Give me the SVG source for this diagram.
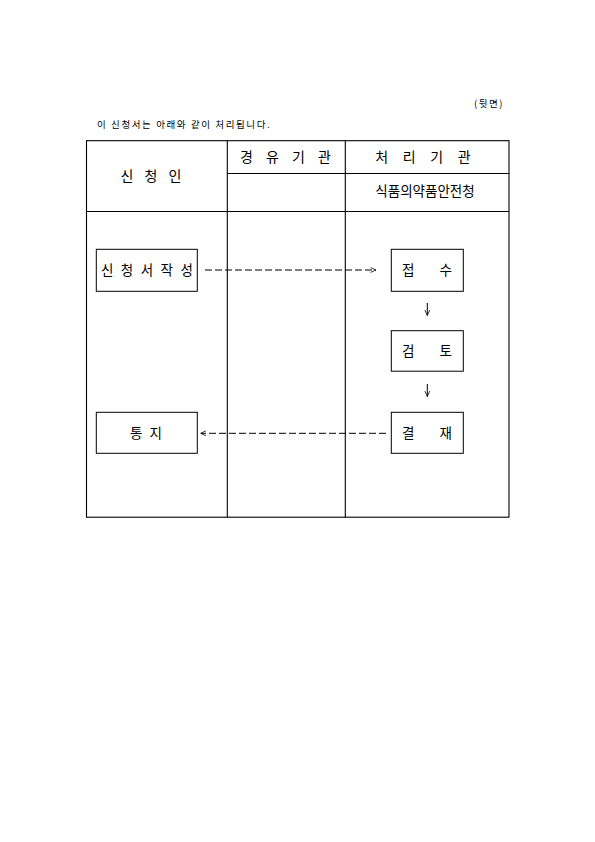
<svg xmlns="http://www.w3.org/2000/svg" width="595" height="842" viewBox="0 0 595 842">
<defs>
<style>
text{font-family:"Noto Sans CJK KR","Noto Sans CJK SC",sans-serif;fill:#000}
.grid{stroke:#000;stroke-width:1.1;fill:none}
.box{stroke:#000;stroke-width:1;fill:#fff}
.lbl{font-size:13.5px;text-anchor:middle}
.hdr{font-size:14px;text-anchor:middle}
.small{font-size:9.5px}
.dash{stroke:#000;stroke-width:1;stroke-dasharray:7 3;fill:none}
.solid{stroke:#000;stroke-width:1;fill:none}
</style>
<marker id="ah" viewBox="0 0 10 10" refX="10" refY="5" markerWidth="6" markerHeight="6" orient="auto" markerUnits="userSpaceOnUse">
<path d="M1,1 L10,5 L1,9" fill="none" stroke="#000" stroke-width="1.3"/>
</marker>
</defs>
<rect width="595" height="842" fill="#fff"/>
<text class="small" x="474" y="107" letter-spacing="1.5">(뒷면)</text>
<text class="small" x="97" y="128" letter-spacing="1.6">이 신청서는 아래와 같이 처리됩니다.</text>
<g id="table">
<rect class="grid" x="86.5" y="140.7" width="422.5" height="376.5"/>
<line class="grid" x1="227.3" y1="140.7" x2="227.3" y2="517.2"/>
<line class="grid" x1="345.3" y1="140.7" x2="345.3" y2="517.2"/>
<line class="grid" x1="227.3" y1="173.5" x2="509" y2="173.5"/>
<line class="grid" x1="86.5" y1="211.5" x2="509" y2="211.5"/>
<text class="hdr" x="151" y="181" word-spacing="8">신 청 인</text>
<text class="hdr" x="285.5" y="162" word-spacing="10">경 유 기 관</text>
<text class="hdr" x="423" y="162" word-spacing="11.5">처 리 기 관</text>
<text class="lbl" x="425" y="196">식품의약품안전청</text>
</g>
<g id="n-apply">
<rect class="box" x="96.3" y="249.3" width="101" height="42"/>
<text class="lbl" x="148" y="275" letter-spacing="2.2">신 청 서 작 성</text>
</g>
<g id="n-receive">
<rect class="box" x="391.3" y="249.3" width="72" height="42"/>
<text class="lbl" x="427" y="275" word-spacing="22">접 수</text>
</g>
<g id="n-review">
<rect class="box" x="391.3" y="330.7" width="72" height="40.5"/>
<text class="lbl" x="427" y="356" word-spacing="22">검 토</text>
</g>
<g id="n-approve">
<rect class="box" x="391.3" y="412.3" width="72" height="41"/>
<text class="lbl" x="427" y="438" word-spacing="22">결 재</text>
</g>
<g id="n-notify">
<rect class="box" x="96.3" y="412.3" width="101" height="41"/>
<text class="lbl" x="146" y="438" word-spacing="4">통 지</text>
</g>
<g id="connectors">
<line class="dash" x1="205" y1="270" x2="376" y2="270" marker-end="url(#ah)"/>
<line class="solid" x1="427.3" y1="303" x2="427.3" y2="315.5" marker-end="url(#ah)"/>
<line class="solid" x1="427.3" y1="384" x2="427.3" y2="396.5" marker-end="url(#ah)"/>
<line class="dash" x1="386" y1="433.3" x2="200.5" y2="433.3" marker-end="url(#ah)"/>
</g>
</svg>
